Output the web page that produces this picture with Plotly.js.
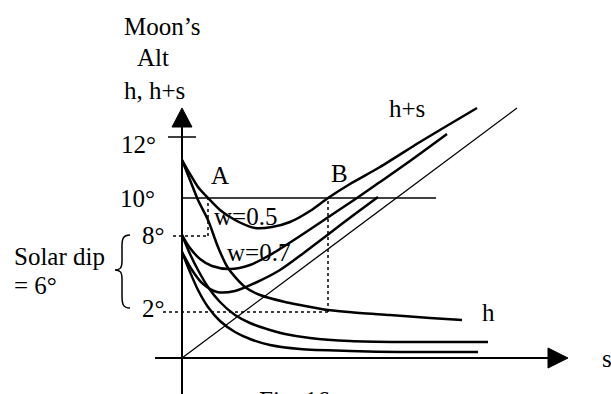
<!DOCTYPE html>
<html>
<head>
<meta charset="utf-8">
<script src="https://cdn.plot.ly/plotly-3.0.1.min.js"></script>
<style>
  html, body { margin: 0; padding: 0; background: #fff; }
  #chart { width: 611px; height: 394px; }
</style>
</head>
<body>
<div id="chart"></div>
<script>
// sketch units: 1 unit = 1 px, origin where the two axes cross
const diagX = [0, 335];
const diagY = [0, 250];

// h curves (Moon's altitude)
const h1X = [0, 8, 16, 26, 36, 46, 63, 78, 103, 118, 146, 178, 208, 248, 280];
const h1Y = [198, 178, 158, 138, 111, 90, 71, 63, 56, 53, 48, 45, 43, 40, 38];
const h2X = [0, 8, 16, 26, 38, 53, 68, 88, 103, 128, 168, 218, 268, 306];
const h2Y = [123, 104, 88, 71, 56, 43, 35, 28, 24, 20, 17, 16, 16, 16];
const h3X = [0, 8, 16, 26, 38, 53, 68, 88, 118, 168, 218, 296];
const h3Y = [106, 86, 68, 51, 37, 26, 19, 13, 9, 7, 6, 6];

// h+s curves
const hs1X = [0, 8, 16, 26, 38, 53, 73, 90, 108, 128, 146, 168, 198, 238, 268, 295];
const hs1Y = [198, 184, 171, 160, 148, 138, 130, 131, 136, 147, 160, 174, 191, 216, 234, 250];
const hs2X = [0, 8, 18, 30, 48, 68, 88, 118, 148, 175, 198, 228, 265];
const hs2Y = [123, 110, 99, 92, 89, 93, 103, 122, 142, 160, 176, 197, 224];
const hs3X = [0, 10, 20, 35, 53, 73, 98, 123, 148, 173, 196];
const hs3Y = [106, 88, 75, 66, 67, 75, 88, 106, 125, 144, 161];

// altitude marks
const tickLabels = ["12°", "10°", "8°", "2°"];
const tickHeights = [221, 160, 122, 46];
const pointA = 26;   // s where h+s of w=0.5 first reaches 10°
const pointB = 146;  // s where it reaches 10° again

const black = "#000";
const serif = "Liberation Serif, Times New Roman, serif";

function curve(x, y, w) {
  return {
    x, y, type: "scatter", mode: "lines",
    line: { color: black, width: w, shape: "spline", smoothing: 0.8 },
    hoverinfo: "skip"
  };
}

const traces = [
  curve(diagX, diagY, 1.3),
  curve(h1X, h1Y, 2.5), curve(h2X, h2Y, 2.5), curve(h3X, h3Y, 2.5),
  curve(hs1X, hs1Y, 2.5), curve(hs2X, hs2Y, 2.5), curve(hs3X, hs3Y, 2.5)
];

const shapes = [
  // axes
  { type: "line", x0: 0, x1: 0, y0: -40, y1: 236, line: { color: black, width: 2 } },
  { type: "line", x0: -27, x1: 370, y0: 0, y1: 0, line: { color: black, width: 2 } },
  { type: "path", path: "M -10,231 L 10,231 L 0,250 Z", fillcolor: black, line: { color: black, width: 1 } },
  { type: "path", path: "M 366,-10 L 366,10 L 386,0 Z", fillcolor: black, line: { color: black, width: 1 } },
  // 12° tick
  { type: "line", x0: -14, x1: 14, y0: tickHeights[0], y1: tickHeights[0], line: { color: black, width: 1.5 } },
  // 10° line
  { type: "line", x0: 0, x1: 254, y0: tickHeights[1], y1: tickHeights[1], line: { color: black, width: 1.5 } },
  // dotted guides
  { type: "line", x0: -9, x1: pointA, y0: tickHeights[2], y1: tickHeights[2], line: { color: black, width: 1.5, dash: "dot" } },
  { type: "line", x0: pointA, x1: pointA, y0: tickHeights[2], y1: tickHeights[1], line: { color: black, width: 1.5, dash: "dot" } },
  { type: "line", x0: -19, x1: pointB, y0: tickHeights[3], y1: tickHeights[3], line: { color: black, width: 1.5, dash: "dot" } },
  { type: "line", x0: pointB, x1: pointB, y0: tickHeights[3], y1: tickHeights[1], line: { color: black, width: 1.5, dash: "dot" } },
  // brace for solar dip
  { type: "path",
    path: "M -52,123 C -59,123 -60,119 -60,112 L -60,97 C -60,90 -62,88 -67,88 C -62,88 -60,86 -60,79 L -60,62 C -60,54 -59,50 -52,50",
    line: { color: black, width: 1.5 } }
];

function label(text, x, y, xanchor) {
  return { text, x, y, xref: "x", yref: "y", showarrow: false,
           xanchor: xanchor || "center", yanchor: "middle",
           font: { family: serif, size: 25, color: black } };
}

const annotations = [
  label("Moon’s", -60, 332, "left"),
  label("Alt", -47, 301, "left"),
  label("h, h+s", -60, 268, "left"),
  label(tickLabels[0], -24, 214, "right"),
  label(tickLabels[1], -25, 160, "right"),
  label(tickLabels[2], -15, 123, "right"),
  label(tickLabels[3], -15, 50, "right"),
  label("A", 38, 183),
  label("B", 157, 185),
  label("w=0.5", 63, 142),
  label("w=0.7", 76, 106),
  label("Solar dip", -170, 102, "left"),
  label("= 6°", -170, 73, "left"),
  label("h+s", 225, 250),
  label("h", 306, 46),
  label("s", 425, 0),
  // caption, cut by the bottom edge as in the source
  { text: "Fig. 16", x: 112, y: -27, xref: "x", yref: "y", showarrow: false,
    xanchor: "center", yanchor: "top", font: { family: serif, size: 25, color: black } }
];

Plotly.newPlot("chart", traces, {
  width: 611, height: 394,
  margin: { t: 0, r: 0, b: 0, l: 0 },
  paper_bgcolor: "#fff", plot_bgcolor: "#fff",
  showlegend: false, hovermode: false,
  xaxis: { range: [-182, 429], visible: false, fixedrange: true },
  yaxis: { range: [-36, 358], visible: false, fixedrange: true },
  shapes, annotations
}, { staticPlot: true });
</script>
</body>
</html>
